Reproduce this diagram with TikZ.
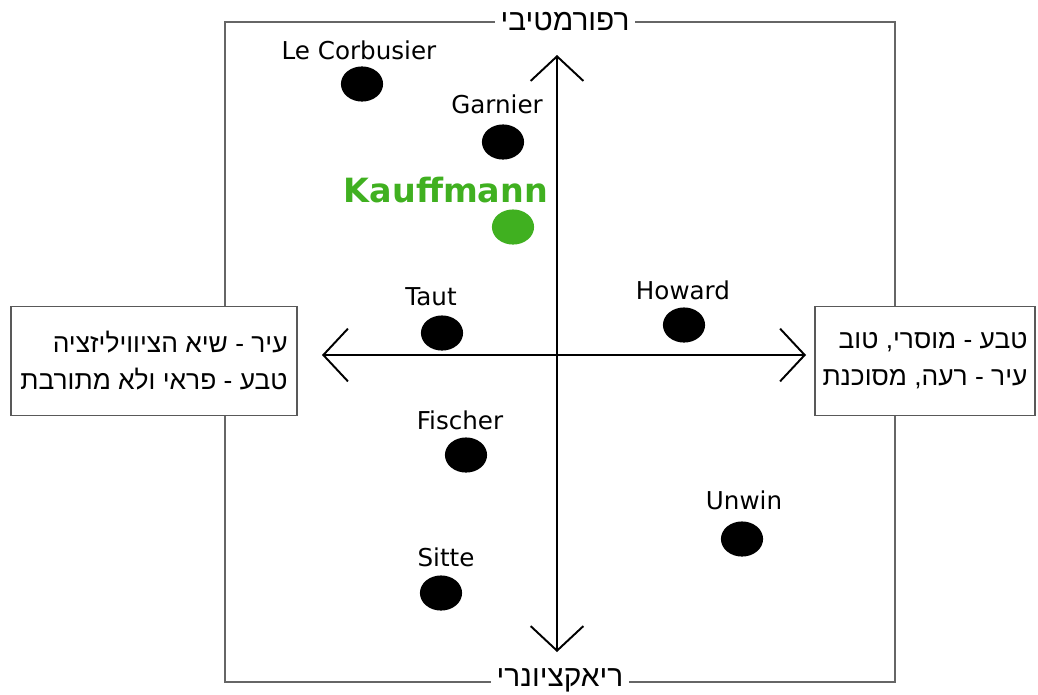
\documentclass[tikz,border=0pt]{standalone}
\usepackage{fontspec}
\setmainfont{DejaVu Sans}
\newfontfamily\hebfont[Script=Hebrew]{Liberation Sans}
\TeXXeTstate=1
\usetikzlibrary{arrows.meta,shapes.geometric}
\tikzset{
  dot/.style={ellipse, fill=black, minimum width=24pt, minimum height=20pt, inner sep=0pt},
  who/.style={font=\fontsize{14}{16}\selectfont, inner sep=1pt},
  side/.style={draw=black!65, line width=0.8pt, minimum width=163pt, minimum height=62pt, align=right, font=\hebfont\fontsize{15}{21}\selectfont},
  axis/.style={line width=1.1pt, {Straight Barb[length=14pt,width=30pt]}-{Straight Barb[length=14pt,width=30pt]}}
}
\begin{document}
\begin{tikzpicture}[x=0.02cm, y=-0.02cm]
\useasboundingbox (0,0) rectangle (1038,694);
\draw[black!60, line width=0.8pt] (225,22) rectangle (895,682);
% axes
\coordinate (up) at (557,55);
\coordinate (down) at (557,652);
\coordinate (lft) at (322,355);
\coordinate (rgt) at (806,355);
\draw[axis] (down) -- (up);
\draw[axis] (lft) -- (rgt);
\node[fill=white, font=\hebfont\fontsize{17}{20}\selectfont] (reform) at (565,22) {\beginR רפורמטיבי\endR};
\node[fill=white, font=\hebfont\fontsize{17}{20}\selectfont] (react) at (560,680) {\beginR ריאקציונרי\endR};
% sides
\node[side, fill=white] (cityside) at (154,361) {\beginR עיר - שיא הציוויליזציה\endR\\\beginR טבע - פראי ולא מתורבת\endR};
\node[side, fill=white, minimum width=125pt] (natside) at (925,361) {\beginR טבע - מוסרי, טוב\endR\\\beginR עיר - רעה, מסוכנת\endR};
% planners
\node[dot] (corbusier) at (362,84) {};
\node[who] (corbusiert) at (359,50) {Le Corbusier};
\node[dot] (garnier) at (503,142) {};
\node[who] (garniert) at (497,104) {Garnier};
\node[dot, fill={rgb,255:red,64;green,176;blue,32}] (kauffmann) at (513,227) {};
\node[who, font=\bfseries\fontsize{19}{22}\selectfont, text={rgb,255:red,64;green,176;blue,32}] (kauffmannt) at (446,190) {Kauffmann};
\node[dot] (taut) at (442,333) {};
\node[who] (tautt) at (431,297) {Taut};
\node[dot] (howard) at (684,325) {};
\node[who] (howardt) at (683,290) {Howard};
\node[dot] (fischer) at (466,455) {};
\node[who] (fischert) at (460,420) {Fischer};
\node[dot] (unwin) at (742,539) {};
\node[who] (unwint) at (744,500) {Unwin};
\node[dot] (sitte) at (441,593) {};
\node[who] (sittet) at (446,557) {Sitte};
\end{tikzpicture}
\end{document}
